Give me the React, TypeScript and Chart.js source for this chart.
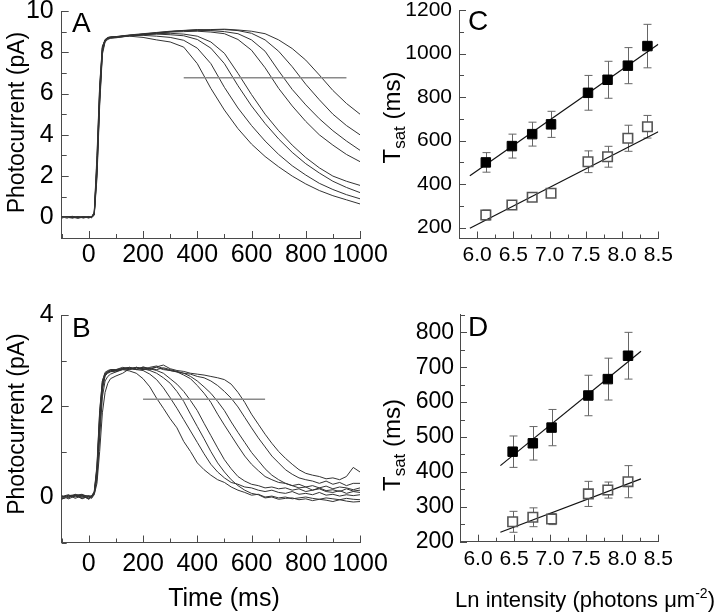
import React, { useEffect, useRef } from "react";
import { Chart, registerables } from "chart.js";

Chart.register(...registerables);

// ---------------- DATA ----------------
// Panel A: photocurrent traces (pA) vs time (ms)
const timeA = [-100, -80, -60, -40, -20, 0, 10, 20, 30, 40, 50, 60, 70, 80, 100, 150, 200, 250, 300, 350, 400, 450, 500, 550, 600, 650, 700, 750, 800, 850, 900, 950, 1000];
const traceA1 = [0.02, -0.03, 0.04, -0.02, 0.03, 0.0, 0.02, 0.25, 3.0, 6.4, 8.3, 8.6, 8.68, 8.7, 8.72, 8.78, 8.72, 8.6, 8.5, 8.25, 7.45, 6.25, 5.2, 4.3, 3.55, 2.95, 2.45, 2.0, 1.62, 1.3, 1.05, 0.85, 0.65];
const traceA2 = [0.0, 0.04, -0.02, 0.03, -0.03, 0.02, 0.0, 0.15, 2.6, 6.1, 8.2, 8.6, 8.7, 8.74, 8.76, 8.8, 8.82, 8.78, 8.72, 8.58, 8.2, 7.45, 6.3, 5.3, 4.45, 3.7, 3.05, 2.5, 2.05, 1.65, 1.35, 1.1, 0.9];
const traceA3 = [-0.02, 0.02, 0.05, 0.0, 0.02, -0.03, 0.03, 0.2, 2.3, 5.8, 8.1, 8.55, 8.66, 8.7, 8.74, 8.82, 8.85, 8.88, 8.85, 8.8, 8.62, 8.2, 7.45, 6.38, 5.4, 4.55, 3.8, 3.15, 2.6, 2.15, 1.75, 1.45, 1.2];
const traceA4 = [0.03, 0.0, -0.03, 0.04, 0.0, 0.02, -0.02, 0.1, 1.9, 5.4, 7.9, 8.5, 8.62, 8.68, 8.7, 8.8, 8.86, 8.9, 8.92, 8.88, 8.78, 8.5, 7.95, 6.98, 5.95, 5.0, 4.2, 3.5, 2.9, 2.4, 2.0, 1.75, 1.55];
const traceA5 = [-0.03, 0.03, 0.0, -0.04, 0.04, 0.0, 0.02, 0.18, 2.5, 6.0, 8.2, 8.6, 8.7, 8.72, 8.75, 8.82, 8.88, 8.92, 8.98, 9.0, 9.02, 8.98, 8.9, 8.62, 8.1, 7.25, 6.25, 5.4, 4.65, 4.0, 3.5, 3.05, 2.7];
const traceA6 = [0.01, -0.02, 0.03, 0.02, -0.02, 0.03, 0.0, 0.12, 2.1, 5.6, 8.0, 8.55, 8.65, 8.7, 8.72, 8.8, 8.87, 8.93, 9.0, 9.05, 9.06, 9.05, 9.0, 8.9, 8.6, 8.05, 7.1, 6.2, 5.45, 4.78, 4.2, 3.7, 3.25];
const traceA7 = [0.04, 0.0, -0.02, 0.01, 0.03, -0.02, 0.01, 0.22, 2.8, 6.3, 8.25, 8.62, 8.72, 8.75, 8.76, 8.84, 8.9, 8.96, 9.02, 9.06, 9.1, 9.08, 9.1, 9.05, 8.92, 8.6, 8.05, 7.3, 6.45, 5.7, 5.0, 4.45, 4.0];
const traceA8 = [-0.01, 0.03, 0.02, -0.03, 0.0, 0.04, -0.01, 0.14, 2.2, 5.7, 8.05, 8.58, 8.68, 8.72, 8.74, 8.82, 8.88, 8.95, 9.0, 9.05, 9.08, 9.1, 9.12, 9.08, 9.02, 8.9, 8.6, 8.18, 7.62, 6.9, 6.15, 5.52, 5.0];
const tracesA = [traceA1, traceA2, traceA3, traceA4, traceA5, traceA6, traceA7, traceA8];
const thresholdA = 6.77;
const thresholdTimesA = [350, 950];

// Panel B
const timeB = [-100, -75, -50, -25, 0, 10, 20, 30, 40, 50, 60, 70, 80, 100, 125, 150, 175, 200, 225, 250, 275, 300, 325, 350, 375, 400, 425, 450, 475, 500, 525, 550, 575, 600, 625, 650, 675, 700, 725, 750, 775, 800, 825, 850, 875, 900, 925, 950, 975, 1000];
const traceB1 = [0.0, 0.03, 0.05, 0.02, -0.03, 0.02, 0.12, 0.7, 1.9, 2.55, 2.72, 2.76, 2.78, 2.78, 2.8, 2.77, 2.72, 2.6, 2.42, 2.17, 1.95, 1.72, 1.52, 1.22, 1.0, 0.75, 0.6, 0.48, 0.38, 0.32, 0.22, 0.15, 0.1, 0.04, 0.06, 0.0, 0.02, -0.02, 0.0, -0.04, -0.02, 0.0, -0.03, -0.05, -0.02, -0.04, -0.06, -0.03, -0.05, -0.06];
const traceB2 = [-0.04, 0.0, 0.04, 0.06, 0.0, -0.02, 0.08, 0.55, 1.7, 2.45, 2.7, 2.75, 2.8, 2.8, 2.82, 2.85, 2.8, 2.78, 2.7, 2.58, 2.4, 2.18, 1.95, 1.7, 1.45, 1.2, 0.95, 0.72, 0.55, 0.42, 0.32, 0.28, 0.22, 0.2, 0.15, 0.12, 0.15, 0.1, 0.08, 0.12, 0.06, 0.08, 0.05, 0.1, 0.04, 0.06, 0.02, 0.05, 0.03, 0.05];
const traceB3 = [0.02, -0.02, 0.06, 0.0, 0.03, 0.0, 0.1, 0.6, 1.75, 2.5, 2.7, 2.74, 2.77, 2.78, 2.82, 2.8, 2.85, 2.82, 2.78, 2.72, 2.62, 2.5, 2.32, 2.1, 1.82, 1.55, 1.28, 1.0, 0.75, 0.55, 0.38, 0.25, 0.15, 0.08, 0.05, -0.02, 0.0, -0.05, -0.03, -0.02, -0.06, -0.04, -0.08, -0.05, -0.07, -0.1, -0.06, -0.09, -0.11, -0.1];
const traceB4 = [-0.02, 0.04, 0.0, 0.05, -0.04, 0.01, 0.06, 0.4, 1.3, 2.2, 2.55, 2.65, 2.7, 2.75, 2.8, 2.83, 2.8, 2.85, 2.82, 2.78, 2.72, 2.6, 2.48, 2.32, 2.12, 1.9, 1.62, 1.35, 1.08, 0.82, 0.62, 0.45, 0.35, 0.28, 0.25, 0.2, 0.22, 0.18, 0.2, 0.15, 0.18, 0.12, 0.15, 0.2, 0.14, 0.16, 0.12, 0.18, 0.13, 0.15];
const traceB5 = [0.03, -0.04, 0.02, 0.04, 0.02, -0.03, 0.05, 0.3, 1.0, 1.85, 2.3, 2.5, 2.6, 2.66, 2.72, 2.82, 2.85, 2.8, 2.83, 2.85, 2.8, 2.78, 2.75, 2.68, 2.6, 2.45, 2.28, 2.08, 1.82, 1.58, 1.35, 1.12, 0.9, 0.72, 0.58, 0.45, 0.38, 0.32, 0.3, 0.25, 0.28, 0.22, 0.25, 0.2, 0.24, 0.18, 0.22, 0.2, 0.16, 0.2];
const traceB6 = [-0.05, 0.02, 0.03, -0.02, 0.0, 0.03, 0.1, 0.65, 1.85, 2.55, 2.74, 2.78, 2.8, 2.8, 2.85, 2.82, 2.8, 2.86, 2.82, 2.8, 2.84, 2.8, 2.76, 2.72, 2.65, 2.55, 2.42, 2.28, 2.1, 1.9, 1.65, 1.42, 1.2, 0.98, 0.8, 0.62, 0.48, 0.38, 0.3, 0.25, 0.2, 0.22, 0.15, 0.18, 0.12, 0.1, 0.14, 0.08, 0.12, 0.1];
const traceB7 = [0.01, 0.05, -0.03, 0.03, -0.05, 0.0, 0.09, 0.5, 1.6, 2.4, 2.68, 2.74, 2.76, 2.75, 2.82, 2.85, 2.82, 2.8, 2.85, 2.88, 2.82, 2.78, 2.75, 2.72, 2.7, 2.65, 2.62, 2.55, 2.45, 2.32, 2.17, 1.98, 1.75, 1.52, 1.3, 1.1, 0.9, 0.75, 0.6, 0.5, 0.42, 0.38, 0.35, 0.3, 0.35, 0.28, 0.32, 0.25, 0.3, 0.3];
const traceB8 = [-0.03, 0.0, 0.04, -0.04, 0.02, 0.02, 0.07, 0.45, 1.5, 2.35, 2.66, 2.72, 2.75, 2.78, 2.83, 2.8, 2.85, 2.82, 2.8, 2.86, 2.9, 2.82, 2.78, 2.76, 2.72, 2.7, 2.68, 2.65, 2.62, 2.58, 2.48, 2.3, 2.08, 1.82, 1.6, 1.38, 1.18, 1.0, 0.85, 0.72, 0.6, 0.52, 0.48, 0.45, 0.4, 0.42, 0.38, 0.45, 0.65, 0.55];
const tracesB = [traceB1, traceB2, traceB3, traceB4, traceB5, traceB6, traceB7, traceB8];
const thresholdB = 2.15;
const thresholdTimesB = [200, 650];

const timeTicks = [0, 200, 400, 600, 800, 1000];
const currentTicksA = [0, 2, 4, 6, 8, 10];
const currentTicksB = [0, 2, 4];

// Panel C
const intensityC = [6.12, 6.48, 6.76, 7.02, 7.53, 7.8, 8.08, 8.35];
const tsatFilledC = [500, 575, 630, 675, 820, 880, 945, 1035];
const errFilledC = [45, 55, 55, 60, 80, 85, 83, 100];
const tsatOpenC = [258, 304, 340, 358, 503, 526, 611, 664];
const errOpenC = [23, 10, 10, 8, 50, 48, 60, 52];
const fitFilledC = [{ x: 5.9, y: 439 }, { x: 8.5, y: 1043 }];
const fitOpenC = [{ x: 5.9, y: 197 }, { x: 8.5, y: 641 }];
const tsatTicksC = [200, 400, 600, 800, 1000, 1200];

// Panel D
const intensityD = [6.48, 6.76, 7.02, 7.53, 7.8, 8.08];
const tsatFilledD = [458, 482, 527, 619, 666, 733];
const errFilledD = [45, 48, 52, 58, 60, 67];
const tsatOpenD = [257, 270, 265, 337, 348, 372];
const errOpenD = [30, 27, 16, 36, 23, 46];
const fitFilledD = [{ x: 6.31, y: 418 }, { x: 8.26, y: 746 }];
const fitOpenD = [{ x: 6.31, y: 227 }, { x: 8.26, y: 380 }];
const tsatTicksD = [200, 300, 400, 500, 600, 700, 800];

const intensityTicks = [6.0, 6.5, 7.0, 7.5, 8.0, 8.5];

// ---------------- STYLE ----------------
const FONT = "'Liberation Sans', Arial, Helvetica, sans-serif";
const AXIS = "#4a4a4a";
const TRACE = "#333333";
const THRESH = "#8a8a8a";
const ERR = "#666666";
const W = 720;
const H = 614;
const Y_BOX = 60;
const X_BOX = 40;
const SQ_R = 6.7;

type Box = { l: number; t: number; r: number; b: number };

function toPts(xs: number[], ys: number[]) {
  return xs.map((x, i) => ({ x, y: ys[i] }));
}

function tickPlugin(xMinor: number, xMajor: number, yMinor: number, yMajor: number) {
  return {
    id: "inwardTicks",
    afterDatasetsDraw(chart: any) {
      const { ctx, chartArea, scales } = chart;
      const xs = scales.x;
      const ys = scales.y;
      ctx.save();
      ctx.strokeStyle = AXIS;
      ctx.lineWidth = 1;
      ctx.beginPath();
      const isMajor = (v: number, m: number) => Math.abs(v / m - Math.round(v / m)) < 1e-6;
      for (let k = Math.ceil(xs.min / xMinor - 1e-9); k * xMinor <= xs.max + 1e-9; k++) {
        const v = k * xMinor;
        const len = isMajor(v, xMajor) ? 7 : 4;
        const px = Math.round(xs.getPixelForValue(v)) + 0.5;
        ctx.moveTo(px, chartArea.bottom);
        ctx.lineTo(px, chartArea.bottom - len);
      }
      for (let k = Math.ceil(ys.min / yMinor - 1e-9); k * yMinor <= ys.max + 1e-9; k++) {
        const v = k * yMinor;
        const len = isMajor(v, yMajor) ? 7 : 5;
        const py = Math.round(ys.getPixelForValue(v)) + 0.5;
        ctx.moveTo(chartArea.left, py);
        ctx.lineTo(chartArea.left + len, py);
      }
      ctx.stroke();
      ctx.restore();
    },
  };
}

function errorPlugin(xs: number[], groups: { y: number[]; e: number[] }[]) {
  return {
    id: "errorBars",
    beforeDatasetsDraw(chart: any) {
      const { ctx, scales } = chart;
      const half = SQ_R * Math.SQRT1_2;
      ctx.save();
      ctx.strokeStyle = ERR;
      ctx.lineWidth = 1;
      ctx.beginPath();
      groups.forEach((g) => {
        xs.forEach((xv, i) => {
          const px = Math.round(scales.x.getPixelForValue(xv)) + 0.5;
          const cy = scales.y.getPixelForValue(g.y[i]);
          const top = scales.y.getPixelForValue(g.y[i] + g.e[i]);
          const bot = scales.y.getPixelForValue(g.y[i] - g.e[i]);
          if (top < cy - half) {
            ctx.moveTo(px, top);
            ctx.lineTo(px, cy - half);
            ctx.moveTo(px - 4, top);
            ctx.lineTo(px + 4, top);
          }
          if (bot > cy + half) {
            ctx.moveTo(px, cy + half);
            ctx.lineTo(px, bot);
            ctx.moveTo(px - 4, bot);
            ctx.lineTo(px + 4, bot);
          }
        });
      });
      ctx.stroke();
      ctx.restore();
    },
  };
}

function textPlugin(draw: (ctx: CanvasRenderingContext2D) => void) {
  return {
    id: "extraText",
    afterDraw(chart: any) {
      const ctx = chart.ctx as CanvasRenderingContext2D;
      ctx.save();
      ctx.fillStyle = "#000";
      ctx.textBaseline = "alphabetic";
      draw(ctx);
      ctx.restore();
    },
  };
}

function text(ctx: CanvasRenderingContext2D, s: string, x: number, y: number, size: number, align: CanvasTextAlign = "left") {
  ctx.font = `${size}px ${FONT}`;
  ctx.textAlign = align;
  ctx.fillText(s, x, y);
}

function rotText(ctx: CanvasRenderingContext2D, s: string, x: number, y: number, size: number) {
  ctx.save();
  ctx.translate(x, y);
  ctx.rotate(-Math.PI / 2);
  text(ctx, s, 0, 0, size, "center");
  ctx.restore();
}

function tsatLabel(ctx: CanvasRenderingContext2D, x: number, y: number) {
  ctx.save();
  ctx.translate(x, y);
  ctx.rotate(-Math.PI / 2);
  const big = `24px ${FONT}`;
  const small = `17px ${FONT}`;
  ctx.font = big;
  const wT = ctx.measureText("T").width;
  const wRest = ctx.measureText(" (ms)").width;
  ctx.font = small;
  const wSub = ctx.measureText("sat").width;
  let cx = -(wT + wSub + wRest) / 2;
  ctx.textAlign = "left";
  ctx.font = big;
  ctx.fillText("T", cx, 0);
  cx += wT;
  ctx.font = small;
  ctx.fillText("sat", cx, 5);
  cx += wSub;
  ctx.font = big;
  ctx.fillText(" (ms)", cx, 0);
  ctx.restore();
}

function lnLabel(ctx: CanvasRenderingContext2D, cx: number, y: number) {
  const main = `22px ${FONT}`;
  const sup = `14px ${FONT}`;
  const a = "Ln intensity (photons \u03bcm";
  const s = "-2";
  const c = ")";
  ctx.textAlign = "left";
  ctx.font = main;
  const wa = ctx.measureText(a).width;
  const wc = ctx.measureText(c).width;
  ctx.font = sup;
  const ws = ctx.measureText(s).width;
  let x = cx - (wa + ws + wc) / 2;
  ctx.font = main;
  ctx.fillText(a, x, y);
  x += wa;
  ctx.font = sup;
  ctx.fillText(s, x, y - 9);
  x += ws;
  ctx.font = main;
  ctx.fillText(c, x, y);
}

function buildOptions(p: {
  box: Box;
  xMin: number; xMax: number; yMin: number; yMax: number;
  xTicks: number[]; yTicks: number[];
  xFont: number; yFont: number; xPad: number; yPad: number;
  xFmt: (v: number) => string;
}) {
  return {
    responsive: false,
    animation: false,
    devicePixelRatio: 1,
    events: [],
    layout: {
      padding: { left: p.box.l - Y_BOX, top: p.box.t, right: W - p.box.r, bottom: H - p.box.b - X_BOX },
    },
    plugins: { legend: { display: false }, tooltip: { enabled: false } },
    scales: {
      x: {
        type: "linear",
        min: p.xMin,
        max: p.xMax,
        grid: { display: false, drawTicks: false },
        border: { display: true, color: AXIS, width: 1 },
        ticks: {
          font: { family: FONT, size: p.xFont },
          color: "#000",
          padding: p.xPad,
          autoSkip: false,
          maxRotation: 0,
          minRotation: 0,
          callback: (v: any) => p.xFmt(Number(v)),
        },
        afterBuildTicks: (s: any) => {
          s.ticks = p.xTicks.map((value) => ({ value }));
        },
        afterFit: (s: any) => {
          s.height = X_BOX;
          s.paddingLeft = 0; s.paddingRight = 0; s.paddingTop = 0; s.paddingBottom = 0;
        },
      },
      y: {
        type: "linear",
        min: p.yMin,
        max: p.yMax,
        grid: { display: false, drawTicks: false },
        border: { display: true, color: AXIS, width: 1 },
        ticks: {
          font: { family: FONT, size: p.yFont },
          color: "#000",
          padding: p.yPad,
          autoSkip: false,
          callback: (v: any) => String(v),
        },
        afterBuildTicks: (s: any) => {
          s.ticks = p.yTicks.map((value) => ({ value }));
        },
        afterFit: (s: any) => {
          s.width = Y_BOX;
          s.paddingLeft = 0; s.paddingRight = 0; s.paddingTop = 0; s.paddingBottom = 0;
        },
      },
    },
  } as any;
}

function traceDatasets(times: number[], traces: number[][], thrTimes: number[], thr: number) {
  const ds: any[] = traces.map((tr) => ({
    type: "line",
    data: toPts(times, tr),
    borderColor: TRACE,
    borderWidth: 1,
    pointRadius: 0,
    tension: 0,
    fill: false,
    order: 1,
  }));
  ds.push({
    type: "line",
    data: thrTimes.map((t) => ({ x: t, y: thr })),
    borderColor: THRESH,
    borderWidth: 1.5,
    pointRadius: 0,
    fill: false,
    order: 0,
  });
  return ds;
}

function tsatDatasets(xs: number[], filled: number[], open: number[], fitF: any[], fitO: any[]) {
  return [
    { type: "line", data: toPts(xs, filled), showLine: false, pointStyle: "rect", pointRadius: SQ_R, backgroundColor: "#000", borderColor: "#000", borderWidth: 1, order: 0 },
    { type: "line", data: toPts(xs, open), showLine: false, pointStyle: "rect", pointRadius: SQ_R, backgroundColor: "rgba(255,255,255,0)", borderColor: "#555", borderWidth: 1.6, order: 0 },
    { type: "line", data: fitF, borderColor: "#111", borderWidth: 1.2, pointRadius: 0, fill: false, order: 1 },
    { type: "line", data: fitO, borderColor: "#111", borderWidth: 1.2, pointRadius: 0, fill: false, order: 1 },
  ] as any[];
}

export default function App() {
  const refA = useRef<HTMLCanvasElement>(null);
  const refB = useRef<HTMLCanvasElement>(null);
  const refC = useRef<HTMLCanvasElement>(null);
  const refD = useRef<HTMLCanvasElement>(null);

  useEffect(() => {
    const charts: Chart[] = [];
    const fmtInt = (v: number) => String(v);
    const fmt1 = (v: number) => v.toFixed(1);

    charts.push(new Chart(refA.current!, {
      type: "line",
      data: { datasets: traceDatasets(timeA, tracesA, thresholdTimesA, thresholdA) },
      options: buildOptions({
        box: { l: 61.7, t: 11, r: 360, b: 238 },
        xMin: -100, xMax: 1000, yMin: -1, yMax: 10,
        xTicks: timeTicks, yTicks: currentTicksA,
        xFont: 25, yFont: 25, xPad: 2, yPad: 8, xFmt: fmtInt,
      }),
      plugins: [
        tickPlugin(100, 200, 1, 2),
        textPlugin((ctx) => {
          text(ctx, "A", 72, 31.5, 28);
          rotText(ctx, "Photocurrent (pA)", 23.5, 122.5, 23);
        }),
      ],
    } as any));

    charts.push(new Chart(refB.current!, {
      type: "line",
      data: { datasets: traceDatasets(timeB, tracesB, thresholdTimesB, thresholdB) },
      options: buildOptions({
        box: { l: 61.7, t: 315, r: 360, b: 542.5 },
        xMin: -100, xMax: 1000, yMin: -1, yMax: 4,
        xTicks: timeTicks, yTicks: currentTicksB,
        xFont: 25, yFont: 25, xPad: 6.5, yPad: 8, xFmt: fmtInt,
      }),
      plugins: [
        tickPlugin(100, 200, 1, 2),
        textPlugin((ctx) => {
          text(ctx, "B", 72, 337, 28);
          rotText(ctx, "Photocurrent (pA)", 23.5, 424, 23);
          text(ctx, "Time (ms)", 224, 606, 25, "center");
        }),
      ],
    } as any));

    charts.push(new Chart(refC.current!, {
      type: "line",
      data: { datasets: tsatDatasets(intensityC, tsatFilledC, tsatOpenC, fitFilledC, fitOpenC) },
      options: buildOptions({
        box: { l: 459, t: 10.2, r: 658.3, b: 238.5 },
        xMin: 5.75, xMax: 8.5, yMin: 150, yMax: 1200,
        xTicks: intensityTicks, yTicks: tsatTicksC,
        xFont: 21, yFont: 21, xPad: 4.5, yPad: 7, xFmt: fmt1,
      }),
      plugins: [
        errorPlugin(intensityC, [{ y: tsatFilledC, e: errFilledC }, { y: tsatOpenC, e: errOpenC }]),
        tickPlugin(0.25, 0.5, 100, 200),
        textPlugin((ctx) => {
          text(ctx, "C", 468, 30, 28);
          tsatLabel(ctx, 400, 117.5);
        }),
      ],
    } as any));

    charts.push(new Chart(refD.current!, {
      type: "line",
      data: { datasets: tsatDatasets(intensityD, tsatFilledD, tsatOpenD, fitFilledD, fitOpenD) },
      options: buildOptions({
        box: { l: 460, t: 314.9, r: 658.3, b: 541.7 },
        xMin: 5.75, xMax: 8.5, yMin: 200, yMax: 850,
        xTicks: intensityTicks, yTicks: tsatTicksD,
        xFont: 21, yFont: 23, xPad: 4.7, yPad: 6, xFmt: fmt1,
      }),
      plugins: [
        errorPlugin(intensityD, [{ y: tsatFilledD, e: errFilledD }, { y: tsatOpenD, e: errOpenD }]),
        tickPlugin(0.25, 0.5, 50, 100),
        textPlugin((ctx) => {
          text(ctx, "D", 468, 336, 28);
          tsatLabel(ctx, 400, 445);
          lnLabel(ctx, 585, 607);
        }),
      ],
    } as any));

    return () => {
      charts.forEach((c) => c.destroy());
    };
  }, []);

  const cv: React.CSSProperties = { position: "absolute", left: 0, top: 0, width: W, height: H };
  return (
    <div style={{ position: "absolute", left: 0, top: 0, width: W, height: H, background: "#fff", overflow: "hidden" }}>
      <canvas ref={refA} width={W} height={H} style={cv} />
      <canvas ref={refB} width={W} height={H} style={cv} />
      <canvas ref={refC} width={W} height={H} style={cv} />
      <canvas ref={refD} width={W} height={H} style={cv} />
    </div>
  );
}
